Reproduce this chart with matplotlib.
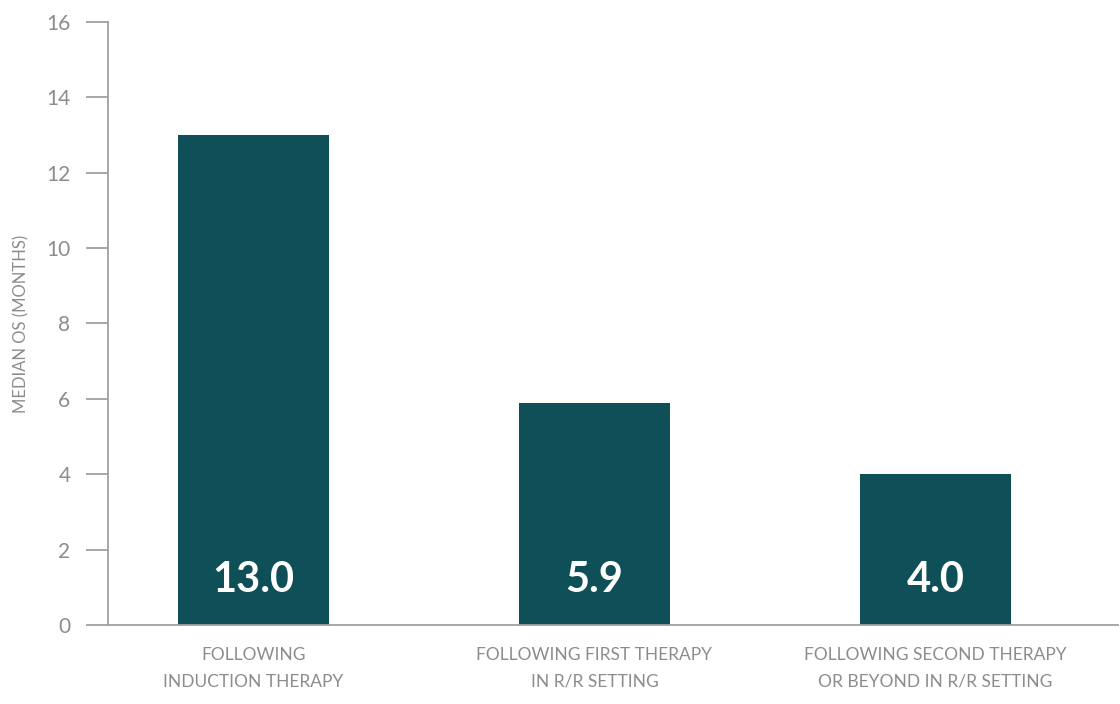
import matplotlib.pyplot as plt

categories = ['FOLLOWING\nINDUCTION THERAPY',
              'FOLLOWING FIRST THERAPY\nIN R/R SETTING',
              'FOLLOWING SECOND THERAPY\nOR BEYOND IN R/R SETTING']
median_os = [13.0, 5.9, 4.0]
value_labels = ['13.0', '5.9', '4.0']
y_ticks = [0, 2, 4, 6, 8, 10, 12, 14, 16]

plt.rcParams['font.family'] = ['Lato', 'DejaVu Sans']

bar_color = '#0f5058'
text_gray = '#8c8c8c'
line_gray = '#a0a0a0'

fig = plt.figure(figsize=(11.2, 7.04), dpi=100)
ax = fig.add_axes([0.0964, 0.1122, 0.9016, 0.8566])

x = list(range(len(categories)))
ax.bar(x, median_os, width=0.443, color=bar_color)

# value labels inside the bars
for xi, lab in zip(x, value_labels):
    ax.text(xi, 1.2, lab, ha='center', va='center', color='white',
            fontsize=30, fontweight='bold')

ax.set_xlim(-0.427, 2.535)
ax.set_ylim(0, 16)
ax.set_yticks(y_ticks)
ax.set_xticks(x)
ax.set_xticklabels(categories, fontsize=12.5, color=text_gray, linespacing=1.8)
ax.tick_params(axis='x', length=0, pad=16)
ax.tick_params(axis='y', length=16, width=1.3, color=line_gray,
               labelsize=15, labelcolor=text_gray, pad=11)
ax.set_ylabel('MEDIAN OS (MONTHS)', fontsize=12, color=text_gray, labelpad=12)

for s in ['top', 'right']:
    ax.spines[s].set_visible(False)
for s in ['left', 'bottom']:
    ax.spines[s].set_color(line_gray)
    ax.spines[s].set_linewidth(1.3)

plt.savefig('out.png', dpi=100)
